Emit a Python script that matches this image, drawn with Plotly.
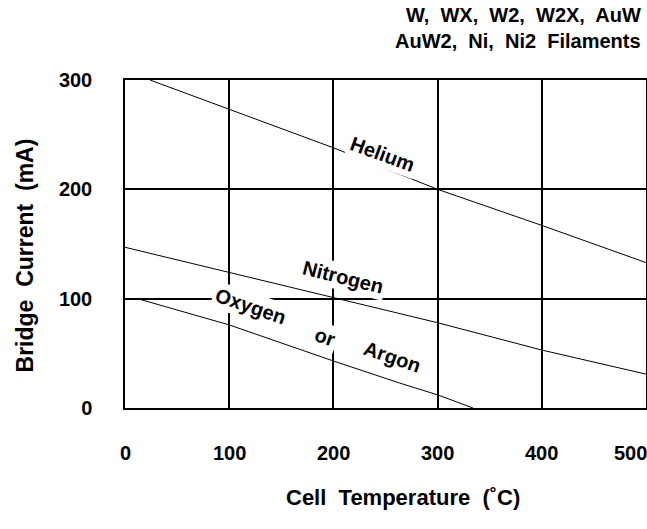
import plotly.graph_objects as go

# ---- data ----
helium_t = [24, 100, 200, 300, 400, 500]
helium_i = [300, 273, 238, 200, 167, 133]

nitrogen_t = [0, 100, 200, 300, 400, 500]
nitrogen_i = [147, 124, 101, 78, 53, 31]

oxygen_t = [12, 100, 200, 263, 300, 334]
oxygen_i = [100, 76, 43, 23, 12, 0]

x_ticks = [0, 100, 200, 300, 400, 500]
x_tick_labels = ["0", "100", "200", "300", "400", "500"]
y_ticks = [0, 100, 200, 300]
y_tick_labels = ["0", "100", "200", "300"]

title_lines = ["W,  WX,  W2,  W2X,  AuW", "AuW2,  Ni,  Ni2  Filaments"]
x_title = "Cell  Temperature  (˚C)"
y_title = "Bridge  Current  (mA)"

FONT = "Liberation Sans, Arial, Helvetica, sans-serif"

fig = go.Figure()
for t, i in [(helium_t, helium_i), (nitrogen_t, nitrogen_i), (oxygen_t, oxygen_i)]:
    fig.add_trace(go.Scatter(x=t, y=i, mode="lines",
                             line=dict(color="black", width=1),
                             showlegend=False, hoverinfo="skip"))

# curve labels (white background masks the grid behind them)
curve_labels = [
    ("Helium", 247, 232, 20),
    ("Nitrogen", 209, 120, 14),
    ("Oxygen", 120, 93, 19),
    ("or", 192, 65, 19),
    ("Argon", 257, 47, 19),
]
for txt, x, y, ang in curve_labels:
    fig.add_annotation(x=x, y=y, xref="x", yref="y", text="<b>%s</b>" % txt,
                       showarrow=False, textangle=ang, bgcolor="white", borderpad=2,
                       font=dict(family=FONT, size=20, color="black"))

# x tick labels
for v, lab in zip(x_ticks, x_tick_labels):
    fig.add_annotation(x=v, y=0, xref="x", yref="paper", text="<b>%s</b>" % lab,
                       showarrow=False, yanchor="middle", yshift=-45,
                       xshift=-16 if v == x_ticks[-1] else 0,
                       font=dict(family=FONT, size=20, color="black"))

# title (top right), two lines placed separately
for k, line in enumerate(title_lines):
    fig.add_annotation(x=1, y=1, xref="paper", yref="paper",
                       text="<b>%s</b>" % line,
                       showarrow=False, xanchor="right", yanchor="middle",
                       align="right", yshift=65 - 26 * k, xshift=-3,
                       font=dict(family=FONT, size=20, color="black"))

# axis titles
fig.add_annotation(x=0.534, y=0, xref="paper", yref="paper",
                   text="<b>%s</b>" % x_title, showarrow=False,
                   yanchor="middle", yshift=-89,
                   font=dict(family=FONT, size=22, color="black"))
fig.add_annotation(x=0, y=0.465, xref="paper", yref="paper",
                   text="<b>%s</b>" % y_title, showarrow=False, textangle=-90,
                   xanchor="center", yanchor="middle", xshift=-100,
                   font=dict(family=FONT, size=23, color="black"))

fig.update_layout(
    width=647, height=529,
    margin=dict(l=125, r=1, t=80, b=121),
    paper_bgcolor="white", plot_bgcolor="white",
    font=dict(family=FONT, color="black"),
    xaxis=dict(range=[0, 500], tickvals=x_ticks[1:-1], showticklabels=False,
               showgrid=True, gridcolor="black", gridwidth=1.5,
               showline=True, linecolor="black", linewidth=1.5, mirror=True,
               zeroline=False, ticks="", automargin=False),
    yaxis=dict(range=[0, 300], tickvals=y_ticks,
               ticktext=["<b>%s</b>" % s for s in y_tick_labels],
               showgrid=True, gridcolor="black", gridwidth=1.5,
               showline=True, linecolor="black", linewidth=1.5, mirror=True,
               zeroline=False, ticks="", ticklabelstandoff=27,
               tickfont=dict(family=FONT, size=20), automargin=False),
)

fig.write_html("out.html")
